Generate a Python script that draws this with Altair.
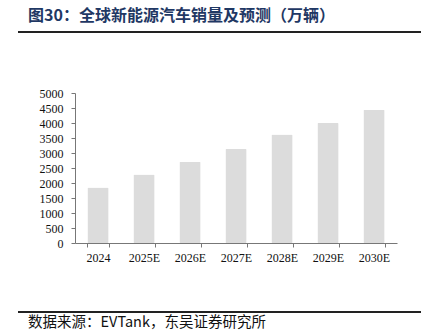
import altair as alt
import pandas as pd

years = ["2024", "2025E", "2026E", "2027E", "2028E", "2029E", "2030E"]
sales = [1850, 2280, 2710, 3130, 3620, 4000, 4440]
y_ticks = [0, 500, 1000, 1500, 2000, 2500, 3000, 3500, 4000, 4500, 5000]
title_text = "图30：全球新能源汽车销量及预测（万辆）"
source_text = "数据来源：EVTank，东吴证券研究所"

df = pd.DataFrame({"year": years, "sales": sales})

W, H = 322, 150
PL, PT = 75, 93

serif = "Times New Roman, Liberation Serif, serif"
cjk = "Noto Sans CJK SC"

bars = alt.Chart(df).mark_bar(color="#DCDCDC", cornerRadius=1).encode(
    x=alt.X("year:N", sort=years, title=None,
            scale=alt.Scale(paddingInner=0.54, paddingOuter=0.27),
            axis=alt.Axis(labelAngle=0, labelFont=serif, labelFontSize=12,
                          labelColor="#111", domainColor="#777", tickColor="#777",
                          tickBand="extent", tickSize=4, labelPadding=5)),
    y=alt.Y("sales:Q", title=None,
            scale=alt.Scale(domain=[0, 5000]),
            axis=alt.Axis(values=y_ticks, grid=False, format="d", labelFont=serif,
                          labelFontSize=12, labelColor="#111", domainColor="#777",
                          tickColor="#777", tickSize=4, labelPadding=8, labelFlush=False)),
)

title = alt.Chart(pd.DataFrame({"t": [title_text]})).mark_text(
    align="left", baseline="middle", font=cjk, fontSize=16, fontWeight="bold",
    color="#1F3864").encode(text="t:N", x=alt.value(28 - PL), y=alt.value(16 - PT))

source = alt.Chart(pd.DataFrame({"t": [source_text]})).mark_text(
    align="left", baseline="middle", font=cjk, fontSize=14.5,
    color="#111").encode(text="t:N", x=alt.value(28 - PL), y=alt.value(323 - PT))

top_line = alt.Chart(pd.DataFrame({"a": [0]})).mark_rule(color="#222", strokeWidth=2).encode(
    x=alt.value(18 - PL), x2=alt.value(421 - PL), y=alt.value(32 - PT))
bot_line = alt.Chart(pd.DataFrame({"a": [0]})).mark_rule(color="#222", strokeWidth=2).encode(
    x=alt.value(18 - PL), x2=alt.value(421 - PL), y=alt.value(312 - PT))

# white masks over the plot frame's top and right edges
mask_top = alt.Chart(pd.DataFrame({"a": [0]})).mark_rule(color="white", strokeWidth=2.5).encode(
    x=alt.value(1), x2=alt.value(W + 2), y=alt.value(0))
mask_right = alt.Chart(pd.DataFrame({"a": [0]})).mark_rule(color="white", strokeWidth=2.5).encode(
    x=alt.value(W), y=alt.value(-2), y2=alt.value(H - 1))

chart = alt.layer(bars, mask_top, mask_right, title, source, top_line, bot_line).properties(
    width=W, height=H,
    autosize=alt.AutoSizeParams(type="none"),
    padding={"left": PL, "top": PT, "right": 434 - PL - W, "bottom": 335 - PT - H},
    background="white",
).configure(
    view={"stroke": "transparent", "strokeWidth": 0},
    style={"cell": {"stroke": "transparent", "strokeWidth": 0}},
)

chart.save("out.html", embed_options={"renderer": "svg", "actions": False})
